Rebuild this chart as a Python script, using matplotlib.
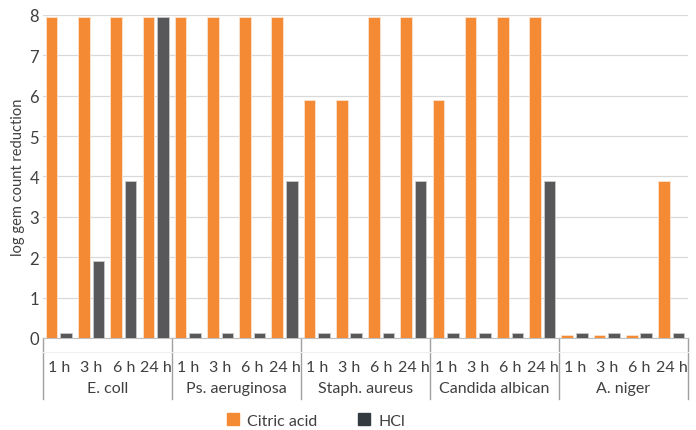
import numpy as np
import matplotlib
matplotlib.use("Agg")
from matplotlib import pyplot as plt
from matplotlib.patches import Patch

# data
groups = ["E. coll", "Ps. aeruginosa", "Staph. aureus", "Candida albican", "A. niger"]
hours = ["1 h", "3 h", "6 h", "24 h"]
citric = [7.95, 7.95, 7.95, 7.95,
          7.95, 7.95, 7.95, 7.95,
          5.9, 5.9, 7.95, 7.95,
          5.9, 7.95, 7.95, 7.95,
          0.08, 0.08, 0.08, 3.9]
hcl = [0.13, 1.9, 3.9, 7.95,
       0.13, 0.13, 0.13, 3.9,
       0.13, 0.13, 0.13, 3.9,
       0.13, 0.13, 0.13, 3.9,
       0.13, 0.13, 0.13, 0.13]

orange = "#F58A35"
grey = "#58585A"
text_col = "#404040"

plt.rcParams["font.family"] = ["Lato", "DejaVu Sans"]

fig = plt.figure(figsize=(6.96, 4.31), dpi=100)
ax = fig.add_axes([0.062, 0.2135, 0.926, 0.7495])

x = np.arange(len(citric))
w = 0.36
ax.bar(x - 0.235, citric, width=w, color=orange, edgecolor="#fbe3cf", linewidth=0.6, zorder=3)
ax.bar(x + 0.215, hcl, width=w, color=grey, edgecolor="#c8c8c8", linewidth=0.6, zorder=3)

ax.set_xlim(-0.5, len(citric) - 0.5)
ax.set_ylim(0, 8)
ax.set_yticks(range(0, 9))
ax.yaxis.grid(True, color="#d9d9d9", linewidth=0.9, zorder=0)
for s in ["top", "right", "left"]:
    ax.spines[s].set_visible(False)
ax.spines["bottom"].set_color("#bfbfbf")
ax.tick_params(axis="y", length=0, labelsize=12, colors=text_col, pad=3)
ax.set_ylabel("log gem count reduction", fontsize=10.5, color=text_col, labelpad=3)

# hour labels
ax.set_xticks(x)
ax.set_xticklabels(hours * len(groups), fontsize=11.5, color=text_col)
ax.tick_params(axis="x", length=0, pad=16)

# group labels and separators
trans = ax.get_xaxis_transform()
for i, g in enumerate(groups):
    ax.text(i * 4 + 1.5, -0.155, g, transform=trans, ha="center", va="center",
            fontsize=11.5, color=text_col)
for i in range(len(groups) + 1):
    ax.plot([i * 4 - 0.5] * 2, [0, -0.189], transform=trans, color="#a0a0a0",
            linewidth=1, clip_on=False)
ax.plot([-0.5, len(citric) - 0.5], [-0.043] * 2, transform=trans, color="#f0f0f0",
        linewidth=0.8, clip_on=False)

handles = [Patch(color=orange, label="Citric acid"), Patch(color="#333a40", label="HCl")]
fig.legend(handles=handles, loc="center", bbox_to_anchor=(0.454, 0.022), ncol=2,
           frameon=False, fontsize=11.5, handlelength=0.75, handleheight=0.75,
           columnspacing=2.6, handletextpad=0.5, labelcolor=text_col)

fig.savefig("out.png", dpi=100)
